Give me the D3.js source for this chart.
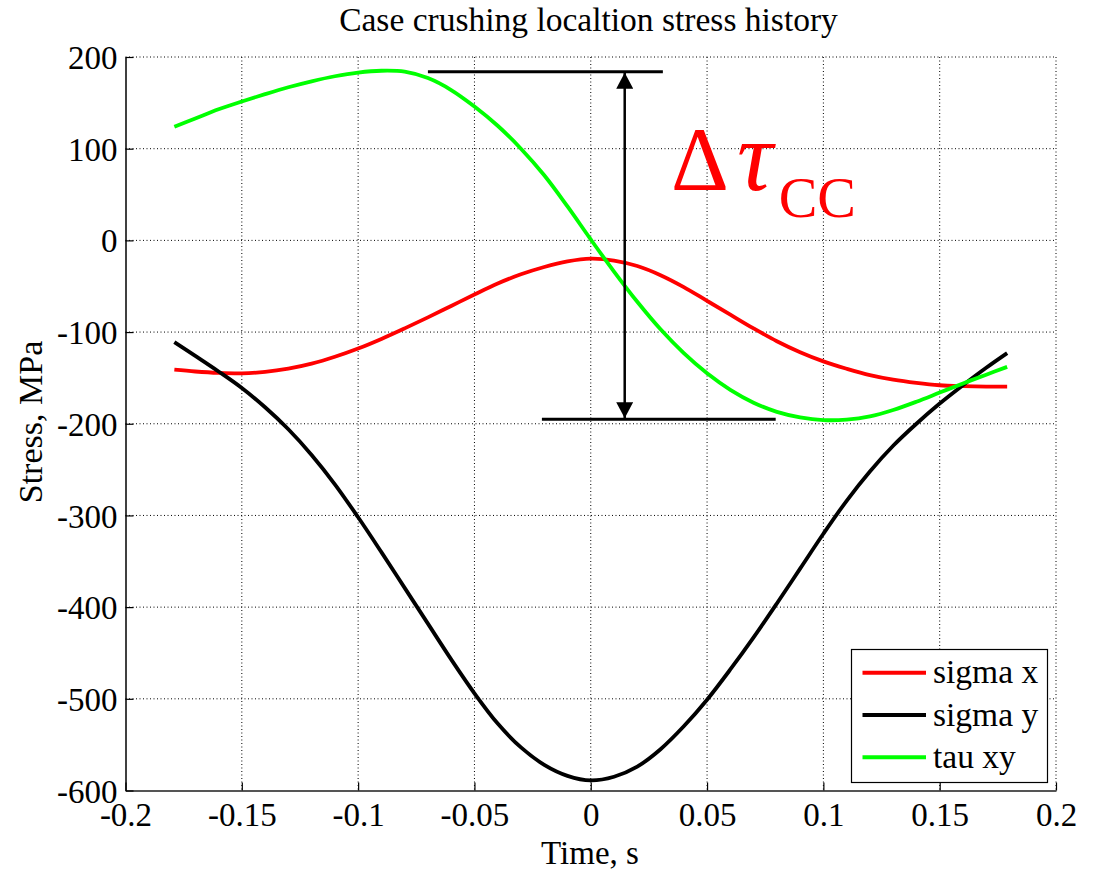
<!DOCTYPE html>
<html><head><meta charset="utf-8">
<script src="https://cdn.jsdelivr.net/npm/d3@7"></script>
<style>
html,body{margin:0;padding:0;background:#fff;}
text{font-family:"Liberation Serif","Times New Roman",serif;}
</style></head>
<body><svg id="chart" width="1098" height="872"></svg>
<script>
const time = [-0.179,-0.17,-0.16,-0.15,-0.14,-0.13,-0.12,-0.11,-0.10,-0.09,-0.08,-0.07,-0.06,-0.05,-0.04,-0.03,-0.02,-0.01,0,0.01,0.02,0.03,0.04,0.05,0.06,0.07,0.08,0.09,0.10,0.11,0.12,0.13,0.14,0.15,0.16,0.17,0.179];
const sigmaX = [-141,-143,-144.5,-145,-143.5,-140,-134.5,-127,-118,-107.5,-96,-84,-71.5,-59,-47,-37,-29,-23,-20,-22,-28,-38,-51,-66,-81,-96,-110,-122,-132,-140,-147,-152,-155.5,-158,-159,-159.5,-159.5];
const sigmaY = [-111,-126,-143,-161,-182,-206,-234,-266,-302,-340,-379,-418,-457,-494,-527,-553,-572,-584,-589,-585,-574,-555,-530,-501,-468,-433,-396,-358,-320,-284,-252,-224,-200,-178,-158,-139,-123];
const tauXY = [124,133,143,151.5,159.5,167,173.5,179,183,185,184,177,164,146,125,100,71,37,1,-34,-67,-97,-123,-145,-163,-177,-187,-193,-196,-195.5,-192,-185,-176,-166,-156,-146.5,-138];
const seriesNames = ["sigma x","sigma y","tau xy"];
const seriesColors = ["#ff0000","#000000","#00ff00"];
const xTicks = [-0.2,-0.15,-0.1,-0.05,0,0.05,0.1,0.15,0.2];
const xTickLabels = ["-0.2","-0.15","-0.1","-0.05","0","0.05","0.1","0.15","0.2"];
const yTicks = [200,100,0,-100,-200,-300,-400,-500,-600];
const yTickLabels = ["200","100","0","-100","-200","-300","-400","-500","-600"];
const title = "Case crushing localtion stress history";
const xLabel = "Time, s";
const yLabel = "Stress, MPa";
// annotation (data units)
const tauMaxLine = {t0:-0.070, t1:0.031, v:184};
const tauMinLine = {t0:-0.021, t1:0.0795, v:-195};
const arrowT = 0.0146;
const labelPos = {t:0.0345, v:55};

const FONT = '"Liberation Serif","Times New Roman",serif';
const svg = d3.select("#chart");
const L=125.5, R=1056, T=57, B=790.5;
const x = d3.scaleLinear().domain([-0.2,0.2]).range([L,R]);
const y = d3.scaleLinear().domain([-600,200]).range([B,T]);
const series = [sigmaX,sigmaY,tauXY];

// grid
const grid = svg.append("g");
grid.selectAll("line.gx").data(xTicks.slice(1)).join("line")
  .attr("x1",d=>x(d)).attr("x2",d=>x(d)).attr("y1",T).attr("y2",B)
  .attr("stroke","#000").attr("stroke-width",1).attr("stroke-dasharray","1,2.5");
grid.selectAll("line.gy").data(yTicks.slice(0,-1)).join("line")
  .attr("x1",L).attr("x2",R).attr("y1",d=>y(d)).attr("y2",d=>y(d))
  .attr("stroke","#000").attr("stroke-width",1).attr("stroke-dasharray","1,2.5");

// axes
const xAxis = d3.axisBottom(x).tickValues(xTicks).tickFormat((d,i)=>xTickLabels[i]).tickSizeInner(-8).tickSizeOuter(0).tickPadding(12);
const gx = svg.append("g").attr("transform",`translate(0,${B})`).call(xAxis);
gx.attr("font-family",FONT);
gx.select(".domain").attr("stroke","#555").attr("stroke-width",2);
gx.selectAll(".tick line").attr("stroke","#000").attr("stroke-width",1.2);
gx.selectAll("text").style("font-family",FONT).style("font-size","33px").attr("fill","#000");
const yAxis = d3.axisLeft(y).tickValues(yTicks).tickFormat((d,i)=>yTickLabels[i]).tickSizeInner(-8).tickSizeOuter(0).tickPadding(8);
const gy = svg.append("g").attr("transform",`translate(${L},0)`).call(yAxis);
gy.attr("font-family",FONT);
gy.select(".domain").attr("stroke","#000").attr("stroke-width",1.5);
gy.selectAll(".tick line").attr("stroke","#000").attr("stroke-width",1.2);
gy.selectAll("text").style("font-family",FONT).style("font-size","33px").attr("fill","#000").attr("dy","0.35em");

// lines
const line = d3.line().x((d,i)=>x(time[i])).y(d=>y(d)).curve(d3.curveCatmullRom.alpha(0.5));
svg.append("g").selectAll("path").data(series).join("path")
  .attr("d",d=>line(d)).attr("fill","none")
  .attr("stroke",(d,i)=>seriesColors[i]).attr("stroke-width",3.8)
  .attr("stroke-linejoin","round").attr("stroke-linecap","butt");

// annotation
const defs = svg.append("defs");
defs.append("marker").attr("id","ah").attr("viewBox","0 0 16 17").attr("refX",16).attr("refY",8.5)
  .attr("markerWidth",16).attr("markerHeight",17).attr("markerUnits","userSpaceOnUse").attr("orient","auto-start-reverse")
  .append("path").attr("d","M0,0L16,8.5L0,17Z").attr("fill","#000");
const ann = svg.append("g");
[tauMaxLine,tauMinLine].forEach(l=>{
  ann.append("line").attr("x1",x(l.t0)).attr("x2",x(l.t1)).attr("y1",y(l.v)).attr("y2",y(l.v))
    .attr("stroke","#000").attr("stroke-width",3);
});
ann.append("line").attr("x1",x(arrowT)).attr("x2",x(arrowT))
  .attr("y1",y(tauMinLine.v)-1).attr("y2",y(tauMaxLine.v)+1)
  .attr("stroke","#000").attr("stroke-width",2.5)
  .attr("marker-start","url(#ah)").attr("marker-end","url(#ah)");
const lbl = ann.append("text").attr("x",x(labelPos.t)).attr("y",y(labelPos.v)).attr("fill","#ff0000");
lbl.append("tspan").style("font-size","90px").text("Δ");
lbl.append("tspan").style("font-size","100px").attr("font-style","italic").attr("dx",8).text("τ");
lbl.append("tspan").style("font-size","58px").attr("dx",6).attr("dy",27).text("CC");

// legend
const lg = svg.append("g");
lg.append("rect").attr("x",851.5).attr("y",649.5).attr("width",196).attr("height",133)
  .attr("fill","#fff").attr("stroke","#000").attr("stroke-width",1.2);
seriesNames.forEach((n,i)=>{
  const yy = 672.7 + i*42.3;
  lg.append("line").attr("x1",862.5).attr("x2",926).attr("y1",yy).attr("y2",yy)
    .attr("stroke",seriesColors[i]).attr("stroke-width",4);
  lg.append("text").attr("x",933).attr("y",yy).attr("dy","0.32em").style("font-size","33.5px").attr("fill","#000").text(n);
});

// titles
svg.append("text").attr("x",588.5).attr("y",31).attr("text-anchor","middle").style("font-size","33.5px").attr("fill","#000").text(title);
svg.append("text").attr("x",590).attr("y",864).attr("text-anchor","middle").style("font-size","33px").attr("fill","#000").text(xLabel);
svg.append("text").attr("transform",`translate(42,422) rotate(-90)`).attr("text-anchor","middle").style("font-size","34px").attr("fill","#000").text(yLabel);
</script></body></html>
